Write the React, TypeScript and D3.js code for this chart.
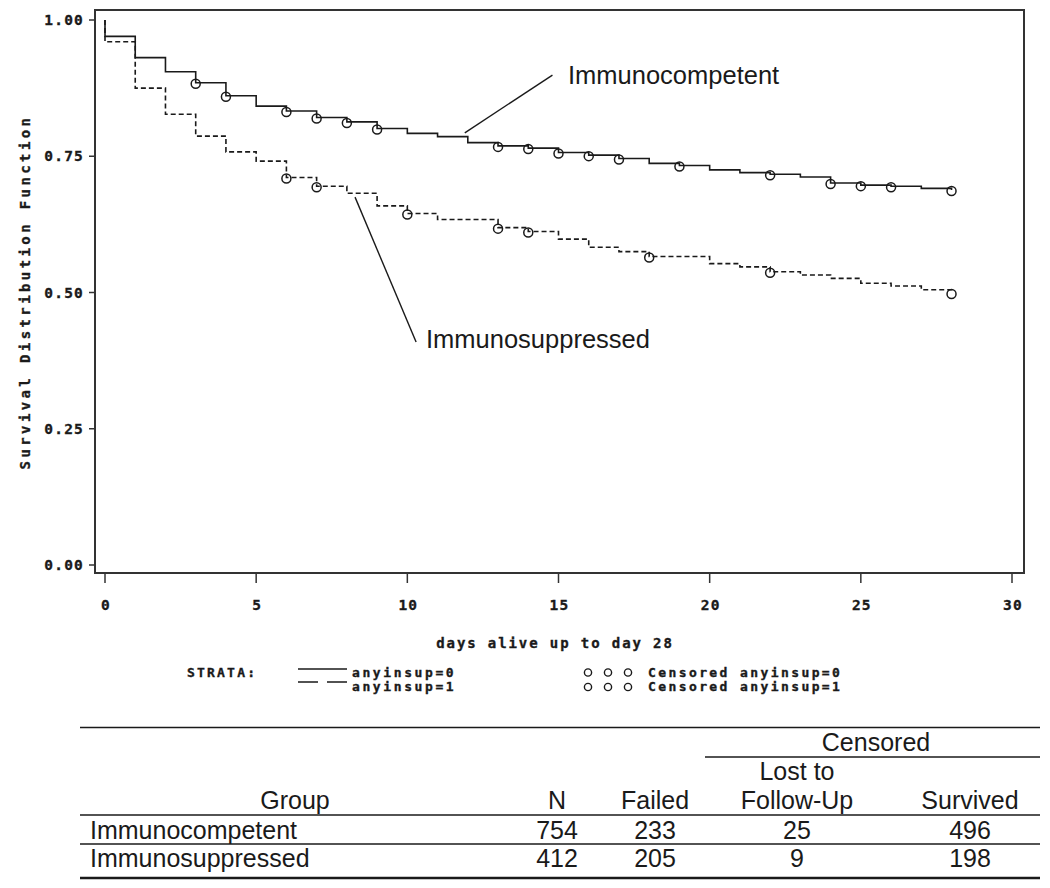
import React from 'react';
import * as d3 from 'd3';

// ---- data ----
const days = [0, 1, 2, 3, 4, 5, 6, 7, 8, 9, 10, 11, 12, 13, 14, 15, 16, 17, 18, 19, 20, 21, 22, 23, 24, 25, 26, 27, 28];
const survCompetent = [0.970, 0.931, 0.905, 0.885, 0.861, 0.842, 0.833, 0.821, 0.813, 0.801, 0.792, 0.786, 0.775, 0.769, 0.765, 0.757, 0.752, 0.746, 0.737, 0.733, 0.725, 0.720, 0.717, 0.712, 0.701, 0.697, 0.695, 0.691, 0.688];
const survSuppressed = [0.960, 0.875, 0.827, 0.787, 0.758, 0.741, 0.711, 0.695, 0.682, 0.659, 0.645, 0.634, 0.634, 0.619, 0.612, 0.598, 0.583, 0.575, 0.566, 0.566, 0.553, 0.547, 0.538, 0.532, 0.526, 0.517, 0.512, 0.505, 0.499];
const censorCompetent = [3, 4, 6, 7, 8, 9, 13, 14, 15, 16, 17, 19, 22, 24, 25, 26, 28];
const censorSuppressed = [6, 7, 10, 13, 14, 18, 22, 28];

const xTicks = [0, 5, 10, 15, 20, 25, 30];
const yTicks = [0, 0.25, 0.5, 0.75, 1];
const yTickLabels = ['0.00', '0.25', '0.50', '0.75', '1.00'];

const tableGroups = ['Immunocompetent', 'Immunosuppressed'];
const tableN = [754, 412];
const tableFailed = [233, 205];
const tableLost = [25, 9];
const tableSurvived = [496, 198];

const mono = "'DejaVu Sans Mono', 'Liberation Mono', monospace";
const sans = "'Liberation Sans', Arial, sans-serif";
const ink = '#1a1a1a';

export default function App() {
  const x = d3.scaleLinear().domain([0, 30]).range([105, 1012]);
  const y = d3.scaleLinear().domain([0, 1]).range([565, 20]);
  const line = d3
    .line<[number, number]>()
    .x((d) => x(d[0]))
    .y((d) => y(d[1]))
    .curve(d3.curveStepAfter);

  const ptsC: [number, number][] = [[0, 1], ...days.map((d, i) => [d, survCompetent[i]] as [number, number])];
  const ptsS: [number, number][] = [[0, 1], ...days.map((d, i) => [d, survSuppressed[i]] as [number, number])];

  const frame = { l: 95, t: 10, r: 1024, b: 573 };

  const colN = 557, colF = 655, colL = 797, colS = 970;
  const tblL = 80, tblR = 1040;
  const rowY = [839, 867];

  const monoProps = { fontFamily: mono, fontWeight: 'bold' as const, fill: ink, stroke: ink, strokeWidth: 0.35 };

  return (
    <svg width={1050} height={888} style={{ position: 'absolute', left: 0, top: 0, background: '#fff' }}>
      <rect x={0} y={0} width={1050} height={888} fill="#fff" />
      {/* frame */}
      <rect x={frame.l} y={frame.t} width={frame.r - frame.l} height={frame.b - frame.t} fill="none" stroke="#333" strokeWidth={2} />

      {/* y ticks */}
      {yTicks.map((v, i) => (
        <g key={'yt' + i}>
          <line x1={89} x2={frame.l} y1={y(v)} y2={y(v)} stroke="#333" strokeWidth={1.5} />
          <text x={84} y={y(v) + 5} textAnchor="end" fontSize={14.5} letterSpacing={1.2} {...monoProps}>
            {yTickLabels[i]}
          </text>
        </g>
      ))}
      {/* x ticks */}
      {xTicks.map((v) => (
        <g key={'xt' + v}>
          <line x1={x(v)} x2={x(v)} y1={frame.b} y2={583} stroke="#333" strokeWidth={1.5} />
          <text x={x(v) + 1} y={610} textAnchor="middle" fontSize={14.5} letterSpacing={1.2} {...monoProps}>
            {v}
          </text>
        </g>
      ))}

      {/* axis titles */}
      <text x={555} y={648} textAnchor="middle" fontSize={14} letterSpacing={1.9} {...monoProps}>
        days alive up to day 28
      </text>
      <text transform="translate(30,292) rotate(-90)" textAnchor="middle" fontSize={14} letterSpacing={3.4} {...monoProps}>
        Survival Distribution Function
      </text>

      {/* curves */}
      <path d={line(ptsC) || ''} fill="none" stroke={ink} strokeWidth={1.6} />
      <path d={line(ptsS) || ''} fill="none" stroke={ink} strokeWidth={1.6} strokeDasharray="5,3" />

      {/* censor marks */}
      {censorCompetent.map((d) => (
        <circle key={'cc' + d} cx={x(d)} cy={y(survCompetent[days.indexOf(d)]) + 1} r={4.5} fill="none" stroke={ink} strokeWidth={1.5} />
      ))}
      {censorSuppressed.map((d) => (
        <circle key={'cs' + d} cx={x(d)} cy={y(survSuppressed[days.indexOf(d)]) + 1} r={4.5} fill="none" stroke={ink} strokeWidth={1.5} />
      ))}

      {/* annotations */}
      <line x1={x(11.9)} y1={y(0.793)} x2={x(14.8)} y2={y(0.899)} stroke={ink} strokeWidth={1.4} />
      <text x={568} y={84} fontFamily={sans} fontSize={25.5} fill={ink}>Immunocompetent</text>
      <line x1={x(8.27)} y1={y(0.675)} x2={x(10.29)} y2={y(0.409)} stroke={ink} strokeWidth={1.4} />
      <text x={426} y={348} fontFamily={sans} fontSize={25.5} fill={ink}>Immunosuppressed</text>

      {/* legend */}
      <text x={187} y={677} fontSize={13} letterSpacing={2.2} {...monoProps}>STRATA:</text>
      <line x1={298} x2={347} y1={669} y2={669} stroke={ink} strokeWidth={1.6} />
      <text x={352} y={677} fontSize={13} letterSpacing={2.6} {...monoProps}>anyinsup=0</text>
      <line x1={298} x2={347} y1={682} y2={682} stroke={ink} strokeWidth={1.6} strokeDasharray="20,9" />
      <text x={352} y={691} fontSize={13} letterSpacing={2.6} {...monoProps}>anyinsup=1</text>
      {[588, 608, 628].map((cx) => (
        <g key={'lc' + cx}>
          <circle cx={cx} cy={672.5} r={3.6} fill="none" stroke={ink} strokeWidth={1.4} />
          <circle cx={cx} cy={687} r={3.6} fill="none" stroke={ink} strokeWidth={1.4} />
        </g>
      ))}
      <text x={648} y={677} fontSize={13} letterSpacing={2.4} {...monoProps}>Censored anyinsup=0</text>
      <text x={648} y={691} fontSize={13} letterSpacing={2.4} {...monoProps}>Censored anyinsup=1</text>

      {/* table */}
      <g fontFamily={sans} fontSize={25} fill={ink}>
        <line x1={tblL} x2={tblR} y1={727.5} y2={727.5} stroke={ink} strokeWidth={1.5} />
        <text x={876} y={751} textAnchor="middle">Censored</text>
        <line x1={705} x2={tblR} y1={757} y2={757} stroke={ink} strokeWidth={1.5} />
        <text x={colL} y={780} textAnchor="middle">Lost to</text>
        <text x={295} y={809} textAnchor="middle">Group</text>
        <text x={colN} y={809} textAnchor="middle">N</text>
        <text x={colF} y={809} textAnchor="middle">Failed</text>
        <text x={colL} y={809} textAnchor="middle">Follow-Up</text>
        <text x={colS} y={809} textAnchor="middle">Survived</text>
        <line x1={tblL} x2={tblR} y1={815} y2={815} stroke={ink} strokeWidth={1.5} />
        {tableGroups.map((g, i) => (
          <g key={g}>
            <text x={90} y={rowY[i]}>{g}</text>
            <text x={colN} y={rowY[i]} textAnchor="middle">{tableN[i]}</text>
            <text x={colF} y={rowY[i]} textAnchor="middle">{tableFailed[i]}</text>
            <text x={colL} y={rowY[i]} textAnchor="middle">{tableLost[i]}</text>
            <text x={colS} y={rowY[i]} textAnchor="middle">{tableSurvived[i]}</text>
          </g>
        ))}
        <line x1={tblL} x2={tblR} y1={844} y2={844} stroke={ink} strokeWidth={1.5} />
        <line x1={tblL} x2={tblR} y1={878} y2={878} stroke={ink} strokeWidth={2.5} />
      </g>
    </svg>
  );
}
